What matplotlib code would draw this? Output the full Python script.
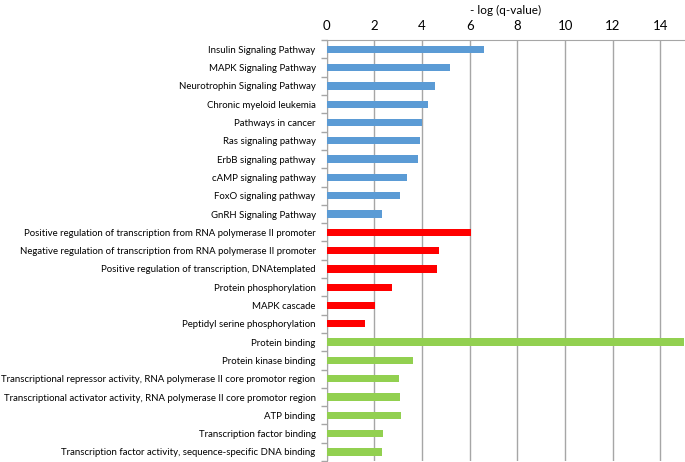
import matplotlib.pyplot as plt
import numpy as np

# Data input
terms = [
    "Insulin Signaling Pathway", "MAPK Signaling Pathway", "Neurotrophin Signaling Pathway",
    "Chronic myeloid leukemia", "Pathways in cancer", "Ras signaling pathway",
    "ErbB signaling pathway", "cAMP signaling pathway", "FoxO signaling pathway",
    "GnRH Signaling Pathway",
    "Positive regulation of transcription from RNA polymerase II promoter",
    "Negative regulation of transcription from RNA polymerase II promoter",
    "Positive regulation of transcription, DNAtemplated",
    "Protein phosphorylation", "MAPK cascade", "Peptidyl serine phosphorylation",
    "Protein binding", "Protein kinase binding",
    "Transcriptional repressor activity, RNA polymerase II core promotor region",
    "Transcriptional activator activity, RNA polymerase II core promotor region",
    "ATP binding", "Transcription factor binding",
    "Transcription factor activity, sequence-specific DNA binding",
]
neg_log_q = [6.6, 5.17, 4.54, 4.25, 4.0, 3.9, 3.82, 3.35, 3.06, 2.3,
             6.05, 4.72, 4.62, 2.75, 2.04, 1.6,
             16.0, 3.62, 3.02, 3.06, 3.1, 2.38, 2.3]
groups = ["kegg"] * 10 + ["bp"] * 6 + ["mf"] * 7
group_colors = {"kegg": "#5B9BD5", "bp": "#FF0000", "mf": "#92D050"}

plt.rcParams['font.family'] = ['Lato', 'DejaVu Sans']

fig = plt.figure(figsize=(6.85, 4.62), dpi=100)
ax = fig.add_axes([0.477, 0.002, 0.522, 0.911])

y = np.arange(len(terms))
ax.barh(y, neg_log_q, height=0.4, color=[group_colors[g] for g in groups], zorder=3)

ax.set_xlim(0, 15)
ax.set_ylim(len(terms) - 0.5, -0.5)
ax.set_xticks(np.arange(0, 15, 2))
ax.xaxis.tick_top()
ax.xaxis.set_label_position('top')
ax.set_xlabel('- log (q-value)', fontsize=8.5, labelpad=4)
ax.tick_params(axis='x', length=0, labelsize=9.5, pad=6)
ax.grid(axis='x', color='#A6A6A6', linewidth=1, zorder=0)

ax.set_yticks(y)
ax.set_yticklabels(terms, fontsize=6.9)
ax.tick_params(axis='y', length=0, pad=8)
ax.set_yticks(np.arange(-0.5, len(terms), 1), minor=True)
ax.tick_params(axis='y', which='minor', length=4, color='#A6A6A6', width=1)

for side in ['right', 'bottom']:
    ax.spines[side].set_visible(False)
ax.spines['top'].set_color('#A6A6A6')
ax.spines['left'].set_color('#A6A6A6')

fig.savefig('out.png', dpi=100)
